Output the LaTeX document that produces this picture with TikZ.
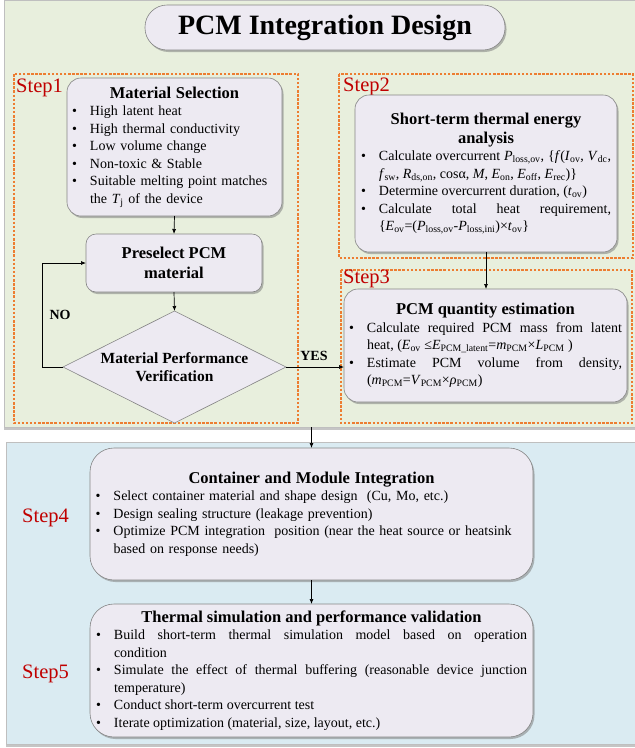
\documentclass[tikz,border=0pt]{standalone}
\usepackage{fontspec}
\setmainfont{Liberation Serif}
\usetikzlibrary{arrows.meta,shapes.geometric,shadows,positioning}

\definecolor{panelgreen}{HTML}{E8EFDD}
\definecolor{panelblue}{HTML}{DAEBF2}
\definecolor{boxfill}{HTML}{EDEAF2}
\definecolor{boxborder}{HTML}{858585}
\definecolor{frameorange}{HTML}{ED7D31}
\definecolor{stepred}{HTML}{C00000}

\newcommand{\cardbody}{\fontsize{14}{17.5}\selectfont\hyphenpenalty=10000}
\newcommand{\cardhead}{\fontsize{16.5}{19}\selectfont\bfseries}
\newcommand{\itemstyle}{}
\newcommand{\pitemdepth}{0pt}
\newcommand{\pitem}[1]{\par\noindent\makebox[18pt][l]{\textbullet}%
  \parbox[t]{\dimexpr\hsize-18pt\relax}{\itemstyle\hyphenpenalty=10000 #1\par
    \xdef\pitemdepth{\the\prevdepth}}\par\prevdepth=\pitemdepth\relax}
\newcommand{\vq}[2]{\textit{#1}\textsubscript{#2}}

\begin{document}
\begin{tikzpicture}[x=1pt, y=-1pt,
  font=\cardbody,
  >={Latex[length=5pt,width=4pt]},
  panel/.style={draw=black!25, line width=0.4pt, inner sep=0pt, outer sep=0pt,
    drop shadow={shadow xshift=0pt, shadow yshift=-3pt, opacity=0.45}},
  stepframe/.style={draw=frameorange, line width=1.3pt, dash pattern=on 2.5pt off 1.6pt},
  steplabel/.style={text=stepred, font=\fontsize{20.5}{22}\selectfont, anchor=base west, inner sep=0pt},
  card/.style={draw=boxborder, line width=0.6pt, fill=boxfill, rounded corners=14pt,
    inner ysep=3pt, outer sep=0pt,
    drop shadow={shadow xshift=1.5pt, shadow yshift=-2pt, opacity=0.55}},
  listcard/.style={card, align=left, execute at begin node={\let\itemstyle\raggedright}},
  justcard/.style={card, align=justify},
  decision/.style={diamond, aspect=2, draw=boxborder, fill=boxfill, line width=0.6pt,
    inner sep=0pt, outer sep=0pt, align=center, font=\fontsize{15.5}{18}\selectfont\bfseries},
  arr/.style={->, draw=black, line width=0.7pt},
  answer/.style={font=\fontsize{14}{16}\selectfont\bfseries, inner sep=1pt}
]
\useasboundingbox (0,0) rectangle (635,748);
\fill[white] (0,0) rectangle (635,748);

% background panels
\node[panel, fill=panelgreen, minimum width=631, minimum height=427] (toppanel) at (319.5,213.5) {};
\node[panel, fill=panelblue, minimum width=629, minimum height=302] (bottompanel) at (320.5,593) {};

% title
\node[card, rounded corners=22pt, minimum width=360, minimum height=45,
  font=\fontsize{28}{30}\selectfont\bfseries] (title) at (325,27.5) {PCM Integration Design};

% step frames
\draw[stepframe] (14,74) rectangle (298,423);
\draw[stepframe] (339,74) rectangle (633,258);
\draw[stepframe] (341,270) rectangle (632,423);

\node[steplabel] (s1label) at (16,92) {Step1};
\node[steplabel] (s2label) at (343,91) {Step2};
\node[steplabel] (s3label) at (343,283) {Step3};
\node[steplabel] (s4label) at (22,522) {Step4};
\node[steplabel] (s5label) at (22,678) {Step5};

% step 1
\node[listcard, text width=205, inner xsep=5, minimum height=138] (matsel) at (174.5,147) {{\centering\cardhead Material Selection\par}
\pitem{High latent heat}
\pitem{High thermal conductivity}
\pitem{Low volume change}
\pitem{Non-toxic \& Stable}
\pitem{Suitable melting point matches\\the \vq{T}{j} of the device}};

\node[card, rounded corners=10pt, minimum width=176, minimum height=58, align=center,
  font=\fontsize{16.5}{20}\selectfont\bfseries] (presel) at (174,263) {Preselect PCM\\material};

\node[decision, minimum width=223, minimum height=112] (verify) at (174.5,367) {Material Performance\\Verification};

\node[answer] (nolabel) at (60,315) {NO};
\node[answer] (yeslabel) at (314,356) {YES};

% step 2
\node[justcard, text width=250, inner xsep=6, minimum height=157] (energy) at (486,173.5) {{\centering\cardhead Short-term thermal energy\\analysis\par}
\pitem{Calculate overcurrent \vq{P}{loss,ov}, \{\textit{f}(\vq{I}{ov}, \vq{V}{dc},\linebreak \vq{f}{sw}, \vq{R}{ds,on}, cosα, \textit{M}, \vq{E}{on}, \vq{E}{off}, \vq{E}{rec})\}}
\pitem{Determine overcurrent duration, (\vq{t}{ov})}
\pitem{Calculate total heat requirement,\linebreak \{\vq{E}{ov}=(\vq{P}{loss,ov}-\vq{P}{loss,ini})×\vq{t}{ov}\}}};

% step 3
\node[justcard, text width=273, inner xsep=5, minimum height=113] (quantity) at (485.5,345.5) {{\centering\cardhead PCM quantity estimation\par}
\pitem{Calculate required PCM mass from latent\linebreak heat, (\vq{E}{ov} ≤\vq{E}{PCM\_latent}=\vq{m}{PCM}×\vq{L}{PCM} )}
\pitem{Estimate PCM volume from density,\linebreak (\vq{m}{PCM}=\vq{V}{PCM}×\textit{ρ}\textsubscript{PCM})}};

% step 4
\node[listcard, text width=432, inner xsep=5.5, minimum height=132, rounded corners=24pt] (container) at (311.5,514) {{\centering\cardhead Container and Module Integration\par}
\pitem{Select container material and shape design\ \ (Cu, Mo, etc.)}
\pitem{Design sealing structure (leakage prevention)}
\pitem{Optimize PCM integration\ \ position (near the heat source or heatsink\\based on response needs)}};

% step 5
\node[justcard, text width=431, inner xsep=6, minimum height=133, rounded corners=24pt] (validation) at (311.5,670.5) {{\centering\cardhead Thermal simulation and performance validation\par}
\pitem{Build short-term thermal simulation model based on operation\linebreak condition}
\pitem{Simulate the effect of thermal buffering (reasonable device junction\linebreak temperature)}
\pitem{Conduct short-term overcurrent test}
\pitem{Iterate optimization (material, size, layout, etc.)}};

% connectors
\draw[arr] (matsel.south) -- (presel.north);
\draw[arr] (presel.south) -- (verify.north);
\draw[arr] (verify.west) -- ++(-21,0) |- (presel.west);
\draw[arr] (verify.east) -- (verify.east -| quantity.west);
\draw[arr] (energy.south) -- (energy.south |- quantity.north);
\draw[arr] (container.north |- toppanel.south) -- (container.north);
\draw[arr] (container.south) -- (validation.north);
\end{tikzpicture}
\end{document}
